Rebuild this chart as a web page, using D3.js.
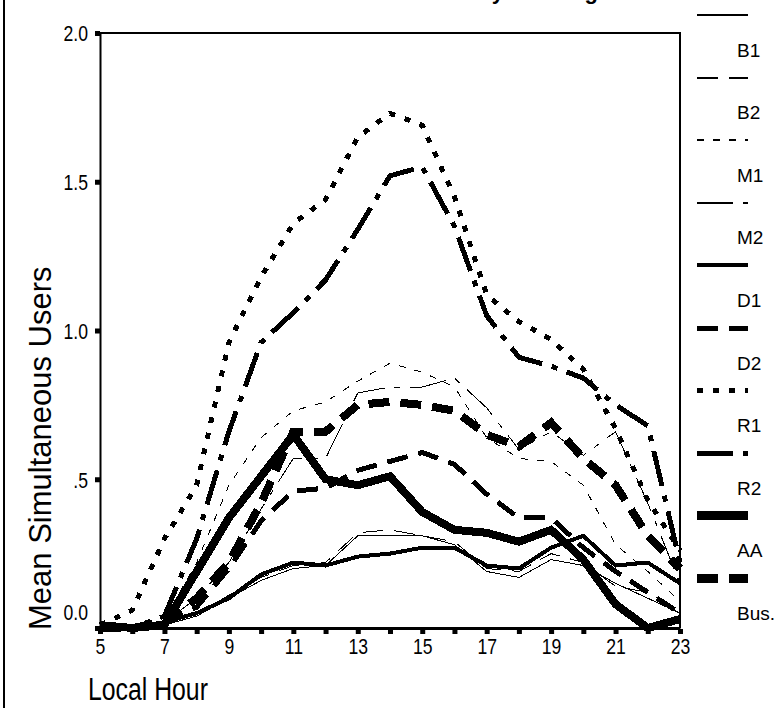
<!DOCTYPE html>
<html>
<head>
<meta charset="utf-8">
<script src="https://cdn.jsdelivr.net/npm/d3@7"></script>
<style>
  body { margin: 0; background: #fff; }
  svg { display: block; }
  .tick-label { font-family: "Liberation Sans", Arial, sans-serif; font-size: 22px; }
  .axis-title { font-family: "Liberation Sans", Arial, sans-serif; }
  .legend-label { font-family: "Liberation Sans", Arial, sans-serif; font-size: 19px; }
</style>
</head>
<body>
<div id="chart"></div>
<script>
// hours on the x axis
const hours = [5, 6, 7, 8, 9, 10, 11, 12, 13, 14, 15, 16, 17, 18, 19, 20, 21, 22, 23];
const hourLabels = ["5", "7", "9", "11", "13", "15", "17", "19", "21", "23"];
const yTicks = [0, 0.5, 1.0, 1.5, 2.0];
const yTickLabels = ["0.0", ".5", "1.0", "1.5", "2.0"];

const seriesNames = ["B1", "B2", "M1", "M2", "D1", "D2", "R1", "R2", "AA", "Bus."];

// mean simultaneous users per hour
const b1 = [0.00, 0.00, 0.01, 0.04, 0.10, 0.16, 0.20, 0.21, 0.31, 0.31, 0.31, 0.28, 0.19, 0.17, 0.23, 0.21, 0.15, 0.10, 0.05];
const b2 = [0.00, 0.00, 0.01, 0.05, 0.11, 0.17, 0.21, 0.22, 0.32, 0.33, 0.31, 0.29, 0.20, 0.19, 0.25, 0.22, 0.14, 0.12, 0.06];
const m1 = [0.00, 0.00, 0.03, 0.22, 0.48, 0.64, 0.73, 0.76, 0.83, 0.89, 0.86, 0.81, 0.64, 0.57, 0.56, 0.48, 0.28, 0.19, 0.09];
const m2 = [0.00, 0.00, 0.02, 0.10, 0.22, 0.40, 0.57, 0.57, 0.79, 0.81, 0.81, 0.84, 0.74, 0.60, 0.66, 0.58, 0.66, 0.42, 0.15];
const d1 = [0.01, 0.00, 0.02, 0.05, 0.10, 0.18, 0.22, 0.21, 0.24, 0.25, 0.27, 0.27, 0.21, 0.20, 0.27, 0.31, 0.21, 0.22, 0.15];
const d2 = [0.00, 0.00, 0.02, 0.07, 0.20, 0.36, 0.46, 0.47, 0.53, 0.56, 0.59, 0.55, 0.45, 0.37, 0.37, 0.27, 0.19, 0.12, 0.05];
const r1 = [0.01, 0.06, 0.30, 0.48, 0.96, 1.18, 1.36, 1.44, 1.65, 1.73, 1.69, 1.45, 1.12, 1.03, 0.97, 0.87, 0.67, 0.43, 0.26];
const r2 = [0.00, 0.00, 0.04, 0.30, 0.66, 0.96, 1.06, 1.17, 1.34, 1.52, 1.55, 1.35, 1.05, 0.91, 0.88, 0.84, 0.75, 0.68, 0.22];
const aa = [0.01, 0.00, 0.01, 0.19, 0.37, 0.51, 0.65, 0.50, 0.48, 0.51, 0.39, 0.33, 0.32, 0.29, 0.33, 0.23, 0.08, 0.00, 0.03];
const bus = [0.00, 0.00, 0.02, 0.10, 0.22, 0.42, 0.66, 0.66, 0.75, 0.76, 0.75, 0.73, 0.65, 0.61, 0.69, 0.57, 0.48, 0.31, 0.20];

const seriesValues = [b1, b2, m1, m2, d1, d2, r1, r2, aa, bus];

// line styles, same order as the series
const strokeWidths = [1, 1, 1, 1, 4, 5, 5, 5, 8, 8];
const dashes = [null, "21,11", "7,9", "36,10,6,10", null, "21,11", "6,10", "36,10,6,10", null, "21,11"];

const width = 784;
const height = 708;
const squeeze = 0.8; // horizontal text compression seen in the original

const svg = d3
  .select("#chart")
  .append("svg")
  .attr("width", width)
  .attr("height", height);

const xScale = d3.scaleLinear().domain([5, 23]).range([100, 680]);
const yScale = d3.scaleLinear().domain([0, 2]).range([628, 33]);

// outer frame edge on the left
svg.append("line")
  .attr("x1", 4).attr("x2", 4)
  .attr("y1", 0).attr("y2", height)
  .attr("stroke", "#000")
  .attr("stroke-width", 1.5)
  .attr("shape-rendering", "crispEdges");

// title, cut off by the top edge in the original
svg.append("text")
  .attr("x", 598)
  .attr("y", -1)
  .attr("text-anchor", "end")
  .attr("font-family", "Liberation Sans, Arial, sans-serif")
  .attr("font-size", 22)
  .attr("font-weight", "bold")
  .text("Mean Simultaneous Users by Building");

// plot frame (top and right)
svg.append("path")
  .attr("d", `M${xScale(5)},${yScale(2)}H${xScale(23)}V${yScale(0)}`)
  .attr("fill", "none")
  .attr("stroke", "#000")
  .attr("stroke-width", 2)
  .attr("shape-rendering", "crispEdges");

// Draw lines
const line = d3.line()
  .x((d, i) => xScale(hours[i]))
  .y((d) => yScale(d));

const plot = svg.append("g");
plot.selectAll("path")
  .data(seriesValues)
  .enter()
  .append("path")
  .attr("d", (d) => line(d))
  .attr("fill", "none")
  .attr("stroke", "#000")
  .attr("stroke-width", (d, i) => strokeWidths[i])
  .attr("stroke-dasharray", (d, i) => dashes[i])
  .attr("stroke-linejoin", "miter")
  .attr("stroke-linecap", "butt")
  .attr("shape-rendering", "crispEdges");

// Draw axes
const xAxis = svg.append("g")
  .attr("transform", `translate(0, ${yScale(0)})`)
  .call(
    d3.axisBottom(xScale)
      .tickValues(hours)
      .tickSize(0)
      .tickPadding(10)
      .tickFormat((d) => (hourLabels.includes(String(d)) ? String(d) : ""))
  );
xAxis.select(".domain").attr("stroke-width", 3);
xAxis.selectAll(".tick text")
  .attr("class", "tick-label")
  .attr("fill", "#000")
  .attr("transform", `scale(${squeeze},1)`);
xAxis.selectAll(".tick")
  .append("rect")
  .attr("x", -2.5).attr("y", 1)
  .attr("width", 5).attr("height", 5)
  .attr("fill", "#000");

const yAxis = svg.append("g")
  .attr("transform", `translate(${xScale(5)}, 0)`)
  .call(
    d3.axisLeft(yScale)
      .tickValues(yTicks)
      .tickSize(0)
      .tickPadding(12)
      .tickFormat((d, i) => yTickLabels[i])
  );
yAxis.select(".domain").attr("stroke-width", 2);
yAxis.selectAll(".tick text")
  .attr("class", "tick-label")
  .attr("fill", "#000")
  .attr("x", -12 / squeeze)
  .attr("transform", `scale(${squeeze},1)`)
  .attr("dy", (d) => (d === 0 ? "-0.4em" : "0.36em"));
yAxis.selectAll(".tick")
  .append("rect")
  .attr("x", -5).attr("y", -2.5)
  .attr("width", 5).attr("height", 5)
  .attr("fill", "#000");

// Axis titles
svg.append("text")
  .attr("class", "axis-title")
  .attr("font-size", 31)
  .attr("transform", `translate(88, 700) scale(${squeeze},1)`)
  .text("Local Hour");

svg.append("text")
  .attr("class", "axis-title")
  .attr("font-size", 31)
  .attr("transform", "translate(51, 630) rotate(-90)")
  .text("Mean Simultaneous Users");

// Legend
const legend = svg.append("g");
const legendItems = legend.selectAll("g")
  .data(seriesNames)
  .enter()
  .append("g")
  .attr("transform", (d, i) => `translate(0, ${15 + i * 62.6})`);

legendItems.append("line")
  .attr("x1", 697).attr("x2", 748)
  .attr("y1", 0).attr("y2", 0)
  .attr("stroke", "#000")
  .attr("stroke-width", (d, i) => strokeWidths[i] === 8 ? 9 : strokeWidths[i] + (i < 4 ? 1 : 0))
  .attr("stroke-dasharray", (d, i) => dashes[i])
  .attr("shape-rendering", "crispEdges");

legendItems.append("text")
  .attr("class", "legend-label")
  .attr("x", 737)
  .attr("y", 35)
  .attr("dy", "0.35em")
  .text((d) => d);
</script>
</body>
</html>
